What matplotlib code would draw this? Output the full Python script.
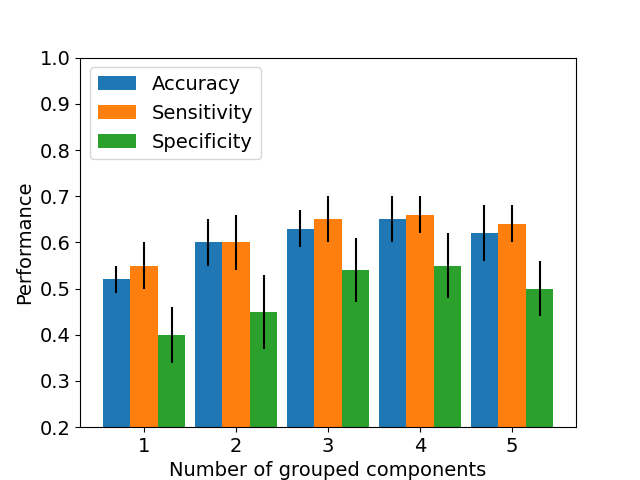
import matplotlib
matplotlib.use("Agg")
import matplotlib.pyplot as plt
import numpy as np

plt.rcParams["font.size"] = 14

groups = [1, 2, 3, 4, 5]
accuracy = [0.52, 0.60, 0.63, 0.65, 0.62]
accuracy_err = [0.03, 0.05, 0.04, 0.05, 0.06]
sensitivity = [0.55, 0.60, 0.65, 0.66, 0.64]
sensitivity_err = [0.05, 0.06, 0.05, 0.04, 0.04]
specificity = [0.40, 0.45, 0.54, 0.55, 0.50]
specificity_err = [0.06, 0.08, 0.07, 0.07, 0.06]

x = np.array(groups)
w = 0.3

fig, ax = plt.subplots(figsize=(6.4, 4.8), dpi=100)
ax.bar(x - w, accuracy, w, yerr=accuracy_err, label="Accuracy")
ax.bar(x, sensitivity, w, yerr=sensitivity_err, label="Sensitivity")
ax.bar(x + w, specificity, w, yerr=specificity_err, label="Specificity")

ax.set_ylim(0.2, 1.0)
ax.set_xticks(x)
ax.set_xlabel("Number of grouped components")
ax.set_ylabel("Performance")
ax.legend(loc="upper left")

fig.savefig("out.png", dpi=100)
